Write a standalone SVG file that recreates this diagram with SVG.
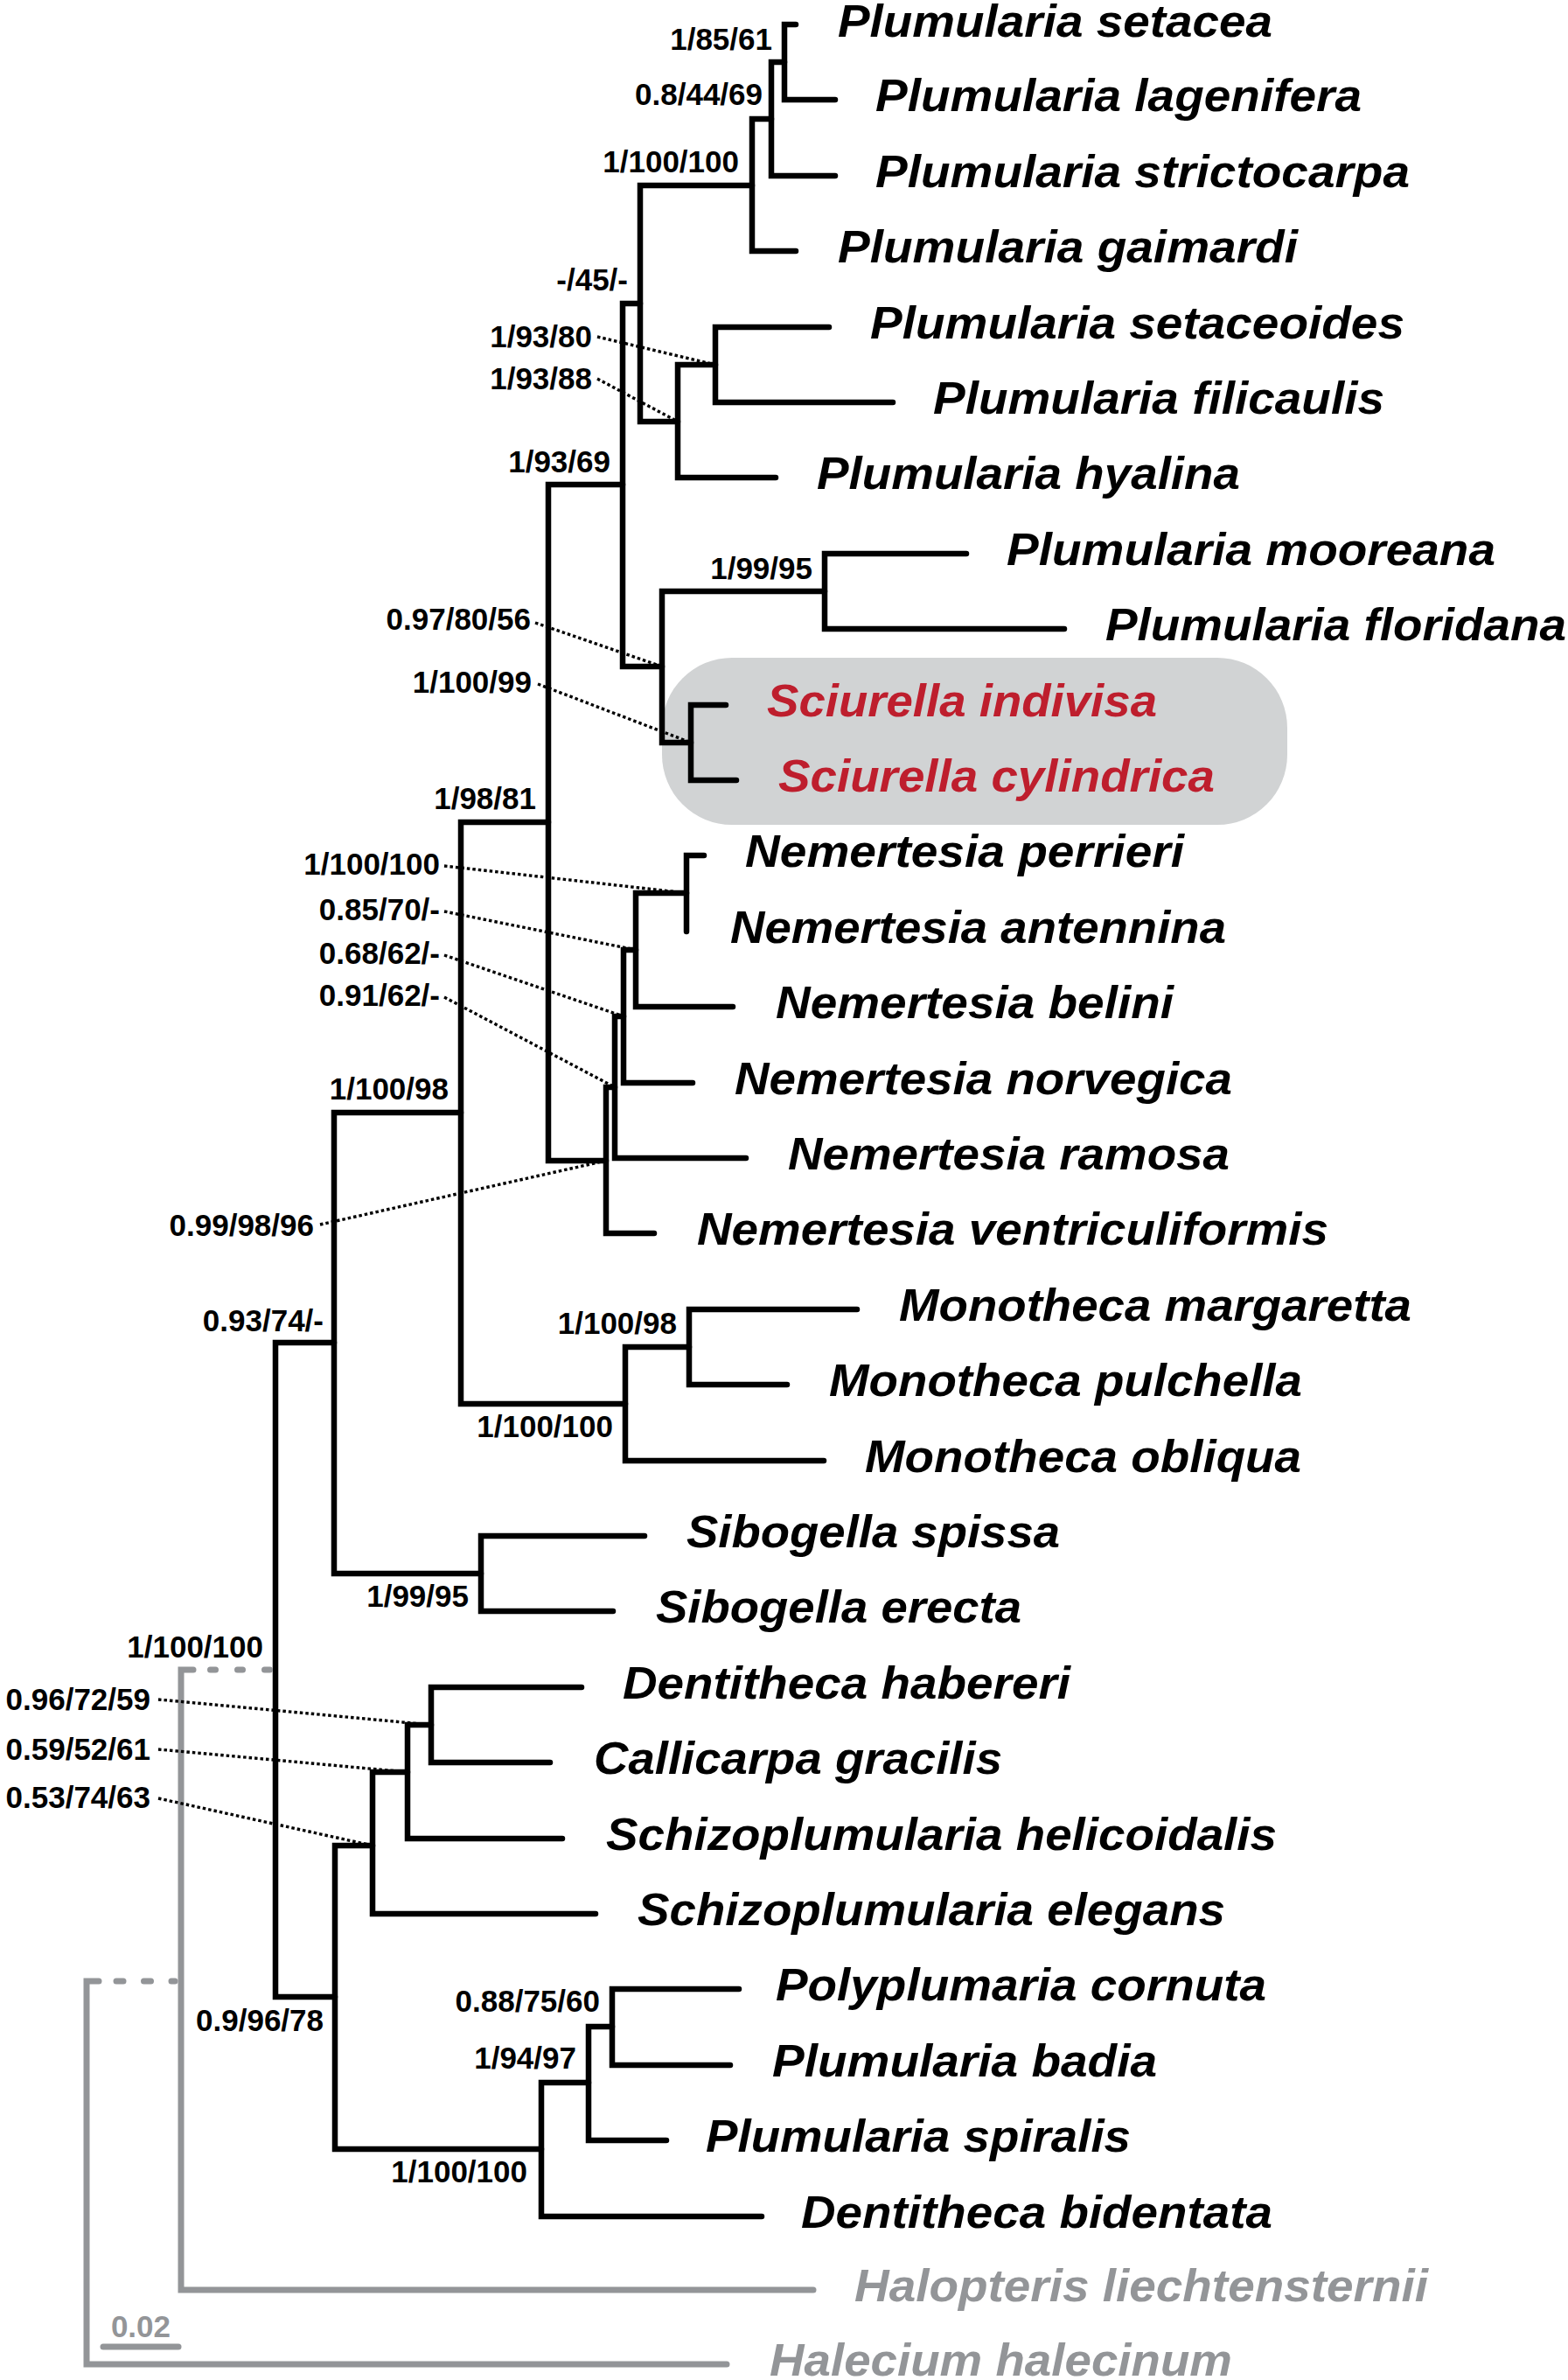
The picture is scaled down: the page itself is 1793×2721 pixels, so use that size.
<svg xmlns="http://www.w3.org/2000/svg" width="1793" height="2721" viewBox="0 0 1793 2721">
<style>
.br{fill:none;stroke:#000;stroke-width:6.5;stroke-linecap:round;stroke-linejoin:miter}
.gr{fill:none;stroke:#939598;stroke-width:7;stroke-linecap:round;stroke-linejoin:miter}
.dot{fill:none;stroke:#000;stroke-width:3.4;stroke-dasharray:3.5 3}
.tx{font-family:"Liberation Sans",Arial,sans-serif;font-weight:bold;font-style:italic;font-size:52px;fill:#000}
.red{fill:#be1e2d}
.gry{fill:#939598}
.sp{font-family:"Liberation Sans",Arial,sans-serif;font-weight:bold;font-size:35px;fill:#000;text-anchor:end}
</style>
<rect width="1793" height="2721" fill="#fff"/>
<rect id="highlight" x="757" y="752" width="715" height="191" rx="80" ry="80" fill="#d1d3d4"/>
<g id="connectors">
<path class="br" d="M910 28H897V114H955"/>
<path class="br" d="M897 71H882V201H955"/>
<path class="br" d="M882 136H860V287H910"/>
<path class="br" d="M948 374H818V460H1021"/>
<path class="br" d="M818 417H775V546H887"/>
<path class="br" d="M860 212H732V482H775"/>
<path class="br" d="M1105 633H943V719H1217"/>
<path class="br" d="M830 806H790V892H842"/>
<path class="br" d="M943 676H757V849H790"/>
<path class="br" d="M732 347H712V762H757"/>
<path class="br" d="M805 978H785V1065"/>
<path class="br" d="M785 1021H727V1151H838"/>
<path class="br" d="M727 1086H713V1238H792"/>
<path class="br" d="M713 1162H703V1324H853"/>
<path class="br" d="M703 1243H693V1410H748"/>
<path class="br" d="M712 554H627V1327H693"/>
<path class="br" d="M980 1497H788V1583H900"/>
<path class="br" d="M788 1540H715V1670H942"/>
<path class="br" d="M627 940H527V1605H715"/>
<path class="br" d="M737 1756H550V1842H701"/>
<path class="br" d="M527 1272H382V1799H550"/>
<path class="br" d="M665 1929H493V2015H629"/>
<path class="br" d="M493 1972H466V2102H643"/>
<path class="br" d="M466 2026H426V2188H681"/>
<path class="br" d="M845 2274H700V2361H835"/>
<path class="br" d="M700 2317H673V2447H762"/>
<path class="br" d="M673 2381H619V2534H871"/>
<path class="br" d="M426 2110H383V2457H619"/>
<path class="br" d="M382 1535H315V2283H383"/>
<path class="gr" d="M221 1909H207V2618H930"/>
<path class="gr" d="M240.5 1909H312" stroke-dasharray="6 25"/>
<path class="gr" d="M113 2265H99V2703H831"/>
<path class="gr" d="M133 2265H200" stroke-dasharray="8 23.5"/>
<path class="gr" d="M118 2683H204"/>
<path class="dot" d="M683 385L818 417"/>
<path class="dot" d="M683 433L775 482"/>
<path class="dot" d="M612 712L757 762"/>
<path class="dot" d="M615 782L790 849"/>
<path class="dot" d="M508 990L785 1021"/>
<path class="dot" d="M508 1042L727 1086"/>
<path class="dot" d="M508 1092L713 1162"/>
<path class="dot" d="M508 1140L703 1243"/>
<path class="dot" d="M366 1400L693 1327"/>
<path class="dot" d="M181 1943L493 1972"/>
<path class="dot" d="M181 2000L466 2026"/>
<path class="dot" d="M181 2056L426 2110"/>
</g>
<g id="taxa">
<g id="t0"><text class="tx" x="958" y="42" textLength="497" lengthAdjust="spacingAndGlyphs">Plumularia setacea</text></g>
<g id="t1"><text class="tx" x="1001" y="127" textLength="556" lengthAdjust="spacingAndGlyphs">Plumularia lagenifera</text></g>
<g id="t2"><text class="tx" x="1001" y="214" textLength="611" lengthAdjust="spacingAndGlyphs">Plumularia strictocarpa</text></g>
<g id="t3"><text class="tx" x="958" y="300" textLength="526" lengthAdjust="spacingAndGlyphs">Plumularia gaimardi</text></g>
<g id="t4"><text class="tx" x="995" y="387" textLength="611" lengthAdjust="spacingAndGlyphs">Plumularia setaceoides</text></g>
<g id="t5"><text class="tx" x="1067" y="473" textLength="516" lengthAdjust="spacingAndGlyphs">Plumularia filicaulis</text></g>
<g id="t6"><text class="tx" x="934" y="559" textLength="484" lengthAdjust="spacingAndGlyphs">Plumularia hyalina</text></g>
<g id="t7"><text class="tx" x="1151" y="646" textLength="559" lengthAdjust="spacingAndGlyphs">Plumularia mooreana</text></g>
<g id="t8"><text class="tx" x="1264" y="732" textLength="527" lengthAdjust="spacingAndGlyphs">Plumularia floridana</text></g>
<g id="t9"><text class="tx red" x="877" y="819" textLength="446" lengthAdjust="spacingAndGlyphs">Sciurella indivisa</text></g>
<g id="t10"><text class="tx red" x="890" y="905" textLength="499" lengthAdjust="spacingAndGlyphs">Sciurella cylindrica</text></g>
<g id="t11"><text class="tx" x="852" y="991" textLength="502" lengthAdjust="spacingAndGlyphs">Nemertesia perrieri</text></g>
<g id="t12"><text class="tx" x="835" y="1078" textLength="567" lengthAdjust="spacingAndGlyphs">Nemertesia antennina</text></g>
<g id="t13"><text class="tx" x="887" y="1164" textLength="455" lengthAdjust="spacingAndGlyphs">Nemertesia belini</text></g>
<g id="t14"><text class="tx" x="840" y="1251" textLength="569" lengthAdjust="spacingAndGlyphs">Nemertesia norvegica</text></g>
<g id="t15"><text class="tx" x="901" y="1337" textLength="505" lengthAdjust="spacingAndGlyphs">Nemertesia ramosa</text></g>
<g id="t16"><text class="tx" x="797" y="1423" textLength="722" lengthAdjust="spacingAndGlyphs">Nemertesia ventriculiformis</text></g>
<g id="t17"><text class="tx" x="1028" y="1510" textLength="586" lengthAdjust="spacingAndGlyphs">Monotheca margaretta</text></g>
<g id="t18"><text class="tx" x="948" y="1596" textLength="541" lengthAdjust="spacingAndGlyphs">Monotheca pulchella</text></g>
<g id="t19"><text class="tx" x="989" y="1683" textLength="499" lengthAdjust="spacingAndGlyphs">Monotheca obliqua</text></g>
<g id="t20"><text class="tx" x="785" y="1769" textLength="427" lengthAdjust="spacingAndGlyphs">Sibogella spissa</text></g>
<g id="t21"><text class="tx" x="750" y="1855" textLength="418" lengthAdjust="spacingAndGlyphs">Sibogella erecta</text></g>
<g id="t22"><text class="tx" x="712" y="1942" textLength="512" lengthAdjust="spacingAndGlyphs">Dentitheca habereri</text></g>
<g id="t23"><text class="tx" x="679" y="2028" textLength="467" lengthAdjust="spacingAndGlyphs">Callicarpa gracilis</text></g>
<g id="t24"><text class="tx" x="693" y="2115" textLength="767" lengthAdjust="spacingAndGlyphs">Schizoplumularia helicoidalis</text></g>
<g id="t25"><text class="tx" x="729" y="2201" textLength="672" lengthAdjust="spacingAndGlyphs">Schizoplumularia elegans</text></g>
<g id="t26"><text class="tx" x="887" y="2287" textLength="561" lengthAdjust="spacingAndGlyphs">Polyplumaria cornuta</text></g>
<g id="t27"><text class="tx" x="883" y="2374" textLength="440" lengthAdjust="spacingAndGlyphs">Plumularia badia</text></g>
<g id="t28"><text class="tx" x="807" y="2460" textLength="486" lengthAdjust="spacingAndGlyphs">Plumularia spiralis</text></g>
<g id="t29"><text class="tx" x="916" y="2547" textLength="539" lengthAdjust="spacingAndGlyphs">Dentitheca bidentata</text></g>
<g id="t30"><text class="tx gry" x="977" y="2631" textLength="656" lengthAdjust="spacingAndGlyphs">Halopteris liechtensternii</text></g>
<g id="t31"><text class="tx gry" x="880" y="2716" textLength="529" lengthAdjust="spacingAndGlyphs">Halecium halecinum</text></g>
</g>
<g id="support">
<text class="sp" x="883" y="57">1/85/61</text>
<text class="sp" x="872" y="120">0.8/44/69</text>
<text class="sp" x="845" y="197">1/100/100</text>
<text class="sp" x="718" y="332">-/45/-</text>
<text class="sp" x="677" y="397">1/93/80</text>
<text class="sp" x="677" y="445">1/93/88</text>
<text class="sp" x="698" y="540">1/93/69</text>
<text class="sp" x="929" y="662">1/99/95</text>
<text class="sp" x="607" y="720">0.97/80/56</text>
<text class="sp" x="608" y="792">1/100/99</text>
<text class="sp" x="613" y="925">1/98/81</text>
<text class="sp" x="503" y="1000">1/100/100</text>
<text class="sp" x="503" y="1052">0.85/70/-</text>
<text class="sp" x="503" y="1102">0.68/62/-</text>
<text class="sp" x="503" y="1150">0.91/62/-</text>
<text class="sp" x="513" y="1257">1/100/98</text>
<text class="sp" x="359" y="1413">0.99/98/96</text>
<text class="sp" x="370" y="1522">0.93/74/-</text>
<text class="sp" x="774" y="1525">1/100/98</text>
<text class="sp" x="701" y="1643">1/100/100</text>
<text class="sp" x="536" y="1837">1/99/95</text>
<text class="sp" x="301" y="1895">1/100/100</text>
<text class="sp" x="172" y="1955">0.96/72/59</text>
<text class="sp" x="172" y="2012">0.59/52/61</text>
<text class="sp" x="172" y="2067">0.53/74/63</text>
<text class="sp" x="686" y="2300">0.88/75/60</text>
<text class="sp" x="659" y="2365">1/94/97</text>
<text class="sp" x="370" y="2322">0.9/96/78</text>
<text class="sp" x="603" y="2495">1/100/100</text>
<text class="sp" x="195" y="2672" style="fill:#939598">0.02</text>
</g>
</svg>
